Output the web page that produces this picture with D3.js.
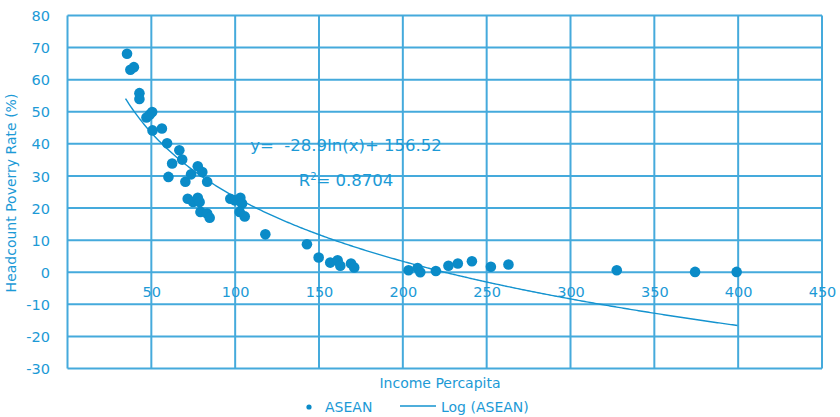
<!DOCTYPE html>
<html><head><meta charset="utf-8">
<script src="https://cdn.jsdelivr.net/npm/d3@7"></script>
<style>body{margin:0;background:#fff}svg{display:block}text{font-family:"DejaVu Sans",Tahoma,sans-serif;fill:#1c9ad6}</style>
</head><body>
<script>
const incomeX = [35.5,37.5,39.6,42.9,42.9,47.1,49.0,50.5,50.7,56.3,59.4,60.2,62.4,66.7,68.4,70.3,73.7,77.7,80.4,83.3,71.7,74.9,77.7,78.8,79.3,83.3,84.8,97.1,99.7,103.1,104.1,102.7,105.7,118.0,142.8,149.8,156.7,161.1,162.7,169.1,171.0,203.4,208.8,210.4,219.7,227.2,232.8,241.2,252.5,263.0,327.6,374.3,399.1];
const povertyY = [68.1,63.1,63.9,55.8,54.0,48.2,49.1,49.9,44.2,44.8,40.2,29.7,33.9,38.0,35.1,28.2,30.5,33.0,31.2,28.2,22.9,21.9,23.2,21.9,18.8,18.3,17.0,22.9,22.4,23.2,21.4,18.8,17.4,11.8,8.7,4.6,3.0,3.7,2.0,2.7,1.5,0.6,1.3,0.0,0.4,2.0,2.7,3.4,1.7,2.4,0.6,0.1,0.1];
const xTicks = [50,100,150,200,250,300,350,400,450];
const yTicks = [80,70,60,50,40,30,20,10,0,-10,-20,-30];
const trendCoef = [-28.9, 156.52];       // y = a ln(x) + b
const trendRange = [34.6, 400];
const equationText = "y=  -28.9In(x)+ 156.52";
const r2Label = ["R", "2", "= 0.8704"];
const xTitle = "Income Percapita";
const yTitle = "Headcount Poverry Rate (%)";
const legendLabels = ["ASEAN", "Log (ASEAN)"];

const W = 840, H = 417;
const grid = "#45aadc", dotC = "#0a8bc8", lineC = "#1493cf";
const svg = d3.select("body").append("svg").attr("width", W).attr("height", H);
const x = d3.scaleLinear().domain([0, 450]).range([67.5, 822]);
const y = d3.scaleLinear().domain([-30, 80]).range([368.5, 15.5]);

// gridlines
svg.append("g").selectAll("line").data(yTicks).join("line")
  .attr("x1", x(0)).attr("x2", x(450)).attr("y1", d => y(d)).attr("y2", d => y(d))
  .attr("stroke", grid).attr("stroke-width", 2);
svg.append("g").selectAll("line").data(xTicks).join("line")
  .attr("x1", d => x(d)).attr("x2", d => x(d)).attr("y1", y(80)).attr("y2", y(-30))
  .attr("stroke", grid).attr("stroke-width", 2);
svg.append("line").attr("x1", x(0)).attr("x2", x(0)).attr("y1", y(80)).attr("y2", y(-30))
  .attr("stroke", grid).attr("stroke-width", 2);

// y axis labels
const yAxis = d3.axisLeft(y).tickValues(yTicks).tickSize(0).tickPadding(0).tickFormat(d => String(d));
const gy = svg.append("g").attr("transform", "translate(50,0)").call(yAxis);
gy.select(".domain").remove();
gy.selectAll("text").style("font-size", "14.5px").attr("fill", "#1c9ad6").attr("dy", "0.35em").attr("x", 0);

// x axis labels (placed below zero line)
const xAxis = d3.axisBottom(x).tickValues(xTicks).tickSize(0).tickPadding(0).tickFormat(d => String(d));
const gx = svg.append("g").attr("transform", `translate(0,${y(0) + 13})`).call(xAxis);
gx.select(".domain").remove();
gx.selectAll("text").style("font-size", "14.5px").attr("fill", "#1c9ad6").attr("dy", "0.35em").attr("y", 7);

// trend line
const tx = d3.range(trendRange[0], trendRange[1] + 0.5, 1);
const line = d3.line().x(d => x(d)).y(d => y(trendCoef[0] * Math.log(d) + trendCoef[1]));
svg.append("path").datum(tx).attr("d", line).attr("fill", "none").attr("stroke", lineC).attr("stroke-width", 1.4);

// points
svg.append("g").selectAll("circle").data(incomeX.map((d, i) => [d, povertyY[i]])).join("circle")
  .attr("cx", d => x(d[0])).attr("cy", d => y(d[1])).attr("r", 5.3).attr("fill", dotC);

// equation
svg.append("text").attr("x", 346).attr("y", 151).attr("text-anchor", "middle")
  .style("font-size", "16.5px").style("white-space", "pre").attr("xml:space", "preserve").text(equationText);
const r2 = svg.append("text").attr("x", 346).attr("y", 186).attr("text-anchor", "middle").style("font-size", "16.5px");
r2.append("tspan").text(r2Label[0]);
r2.append("tspan").attr("dy", -6).style("font-size", "10px").text(r2Label[1]);
r2.append("tspan").attr("dy", 6).text(r2Label[2]);

// titles
svg.append("text").attr("x", 440).attr("y", 388).attr("text-anchor", "middle").style("font-size", "14px").text(xTitle);
svg.append("text").attr("transform", "translate(16,193) rotate(-90)").attr("text-anchor", "middle").style("font-size", "14px").text(yTitle);

// legend
svg.append("circle").attr("cx", 309).attr("cy", 407).attr("r", 2.6).attr("fill", dotC);
svg.append("text").attr("x", 325).attr("y", 412).style("font-size", "14px").text(legendLabels[0]);
svg.append("line").attr("x1", 400).attr("x2", 436).attr("y1", 406).attr("y2", 406).attr("stroke", lineC).attr("stroke-width", 1.3);
svg.append("text").attr("x", 441).attr("y", 412).style("font-size", "14px").text(legendLabels[1]);
</script>
</body></html>
